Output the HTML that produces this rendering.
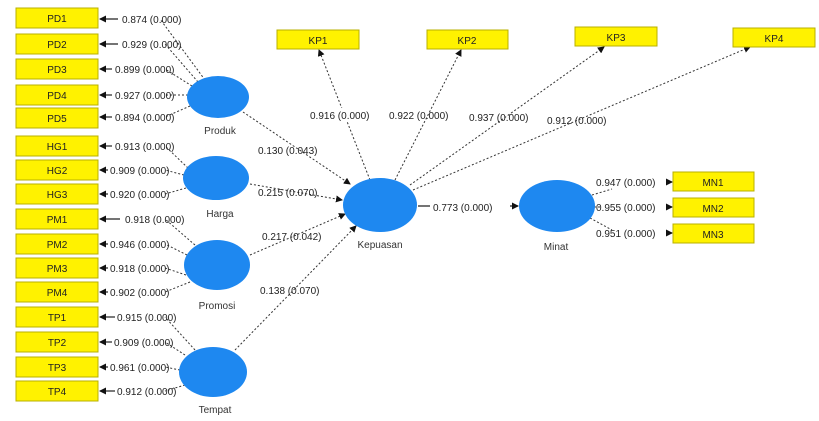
<!DOCTYPE html>
<html><head><meta charset="utf-8"><style>
html,body{margin:0;padding:0;background:#fff;}
svg{display:block;font-family:"Liberation Sans",sans-serif;}
.b{fill:#fff200;stroke:#b8b000;stroke-width:1;}
.bt{font-size:10px;fill:#222;text-anchor:middle;}
.l{font-size:10px;fill:#222;}
.d{stroke:#333;stroke-width:1;stroke-dasharray:2,2;fill:none;}
.s{stroke:#222;stroke-width:1.2;fill:none;}
.e{fill:#1e88f0;}
.n{font-size:10px;fill:#333;text-anchor:middle;}
</style></head><body>
<svg width="819" height="421" viewBox="0 0 819 421">
<defs><marker id="a" markerWidth="7" markerHeight="7" refX="6" refY="3.5" orient="auto" markerUnits="userSpaceOnUse"><path d="M0,0 L7,3.5 L0,7z" fill="#111"/></marker></defs>

<g>
<line class="d" x1="205" y1="80" x2="160" y2="19"/>
<line class="d" x1="198" y1="82" x2="165" y2="44"/>
<line class="d" x1="192" y1="86" x2="165" y2="69"/>
<line class="d" x1="188" y1="95" x2="165" y2="95"/>
<line class="d" x1="190" y1="106" x2="165" y2="117"/>
<line class="d" x1="188" y1="168" x2="165" y2="146"/>
<line class="d" x1="184" y1="175" x2="165" y2="170"/>
<line class="d" x1="186" y1="188" x2="165" y2="194"/>
<line class="d" x1="195" y1="245" x2="165" y2="219"/>
<line class="d" x1="187" y1="255" x2="165" y2="244"/>
<line class="d" x1="186" y1="275" x2="165" y2="268"/>
<line class="d" x1="190" y1="282" x2="165" y2="292"/>
<line class="d" x1="195" y1="350" x2="165" y2="317"/>
<line class="d" x1="185" y1="355" x2="165" y2="342"/>
<line class="d" x1="180" y1="370" x2="165" y2="367"/>
<line class="d" x1="185" y1="385" x2="165" y2="391"/>
</g>
<g>
<line class="s" x1="118" y1="19" x2="100" y2="19" marker-end="url(#a)"/>
<line class="s" x1="118" y1="44" x2="100" y2="44" marker-end="url(#a)"/>
<line class="s" x1="112" y1="69" x2="100" y2="69" marker-end="url(#a)"/>
<line class="s" x1="112" y1="95" x2="100" y2="95" marker-end="url(#a)"/>
<line class="s" x1="112" y1="117" x2="100" y2="117" marker-end="url(#a)"/>
<line class="s" x1="112" y1="146" x2="100" y2="146" marker-end="url(#a)"/>
<line class="s" x1="108" y1="170" x2="100" y2="170" marker-end="url(#a)"/>
<line class="s" x1="108" y1="194" x2="100" y2="194" marker-end="url(#a)"/>
<line class="s" x1="120" y1="219" x2="100" y2="219" marker-end="url(#a)"/>
<line class="s" x1="108" y1="244" x2="100" y2="244" marker-end="url(#a)"/>
<line class="s" x1="108" y1="268" x2="100" y2="268" marker-end="url(#a)"/>
<line class="s" x1="108" y1="292" x2="100" y2="292" marker-end="url(#a)"/>
<line class="s" x1="115" y1="317" x2="100" y2="317" marker-end="url(#a)"/>
<line class="s" x1="112" y1="342" x2="100" y2="342" marker-end="url(#a)"/>
<line class="s" x1="108" y1="367" x2="100" y2="367" marker-end="url(#a)"/>
<line class="s" x1="115" y1="391" x2="100" y2="391" marker-end="url(#a)"/>
</g>
<g class="l">
<text x="122" y="23">0.874 (0.000)</text>
<text x="122" y="48">0.929 (0.000)</text>
<text x="115" y="73">0.899 (0.000)</text>
<text x="115" y="99">0.927 (0.000)</text>
<text x="115" y="121">0.894 (0.000)</text>
<text x="115" y="150">0.913 (0.000)</text>
<text x="110" y="174">0.909 (0.000)</text>
<text x="110" y="198">0.920 (0.000)</text>
<text x="125" y="223">0.918 (0.000)</text>
<text x="110" y="248">0.946 (0.000)</text>
<text x="110" y="272">0.918 (0.000)</text>
<text x="110" y="296">0.902 (0.000)</text>
<text x="117" y="321">0.915 (0.000)</text>
<text x="114" y="346">0.909 (0.000)</text>
<text x="110" y="371">0.961 (0.000)</text>
<text x="117" y="395">0.912 (0.000)</text>
</g>

<g>
<rect class="b" x="16" y="8" width="82" height="20"/><text class="bt" x="57" y="22">PD1</text>
<rect class="b" x="16" y="34" width="82" height="20"/><text class="bt" x="57" y="48">PD2</text>
<rect class="b" x="16" y="59" width="82" height="20"/><text class="bt" x="57" y="73">PD3</text>
<rect class="b" x="16" y="85" width="82" height="20"/><text class="bt" x="57" y="99">PD4</text>
<rect class="b" x="16" y="108" width="82" height="20"/><text class="bt" x="57" y="122">PD5</text>
<rect class="b" x="16" y="136" width="82" height="20"/><text class="bt" x="57" y="150">HG1</text>
<rect class="b" x="16" y="160" width="82" height="20"/><text class="bt" x="57" y="174">HG2</text>
<rect class="b" x="16" y="184" width="82" height="20"/><text class="bt" x="57" y="198">HG3</text>
<rect class="b" x="16" y="209" width="82" height="20"/><text class="bt" x="57" y="223">PM1</text>
<rect class="b" x="16" y="234" width="82" height="20"/><text class="bt" x="57" y="248">PM2</text>
<rect class="b" x="16" y="258" width="82" height="20"/><text class="bt" x="57" y="272">PM3</text>
<rect class="b" x="16" y="282" width="82" height="20"/><text class="bt" x="57" y="296">PM4</text>
<rect class="b" x="16" y="307" width="82" height="20"/><text class="bt" x="57" y="321">TP1</text>
<rect class="b" x="16" y="332" width="82" height="20"/><text class="bt" x="57" y="346">TP2</text>
<rect class="b" x="16" y="357" width="82" height="20"/><text class="bt" x="57" y="371">TP3</text>
<rect class="b" x="16" y="381" width="82" height="20"/><text class="bt" x="57" y="395">TP4</text>
</g>

<line class="d" x1="243" y1="112" x2="350" y2="184" marker-end="url(#a)"/>
<line class="d" x1="250" y1="184" x2="342" y2="200" marker-end="url(#a)"/>
<line class="d" x1="250" y1="255" x2="345" y2="214" marker-end="url(#a)"/>
<line class="d" x1="235" y1="350" x2="356" y2="226" marker-end="url(#a)"/>
<line class="s" x1="418" y1="206" x2="518" y2="206" marker-end="url(#a)"/>
<text class="l" x="258" y="154">0.130 (0.043)</text>
<text class="l" x="258" y="196">0.215 (0.070)</text>
<text class="l" x="262" y="240">0.217 (0.042)</text>
<text class="l" x="260" y="294">0.138 (0.070)</text>
<rect x="430" y="199" width="80" height="14" fill="#fff"/>
<text class="l" x="433" y="211">0.773 (0.000)</text>

<line class="d" x1="370" y1="180" x2="319" y2="50" marker-end="url(#a)"/>
<line class="d" x1="395" y1="180" x2="461" y2="50" marker-end="url(#a)"/>
<line class="d" x1="410" y1="185" x2="604" y2="47" marker-end="url(#a)"/>
<line class="d" x1="413" y1="190" x2="750" y2="47" marker-end="url(#a)"/>
<rect x="305" y="108" width="72" height="13" fill="#fff"/>
<text class="l" x="310" y="119">0.916 (0.000)</text>
<text class="l" x="389" y="119">0.922 (0.000)</text>
<text class="l" x="469" y="121">0.937 (0.000)</text>
<text class="l" x="547" y="124">0.912 (0.000)</text>
<rect class="b" x="277" y="30" width="82" height="19"/><text class="bt" x="318" y="44">KP1</text>
<rect class="b" x="427" y="30" width="81" height="19"/><text class="bt" x="467" y="44">KP2</text>
<rect class="b" x="575" y="27" width="82" height="19"/><text class="bt" x="616" y="41">KP3</text>
<rect class="b" x="733" y="28" width="82" height="19"/><text class="bt" x="774" y="42">KP4</text>

<line class="d" x1="592" y1="195" x2="612" y2="189"/>
<line class="d" x1="594" y1="207" x2="600" y2="207"/>
<line class="d" x1="590" y1="218" x2="612" y2="230"/>
<text class="l" x="596" y="186">0.947 (0.000)</text>
<text class="l" x="596" y="211">0.955 (0.000)</text>
<text class="l" x="596" y="237">0.951 (0.000)</text>
<line class="s" x1="667" y1="182" x2="672" y2="182" marker-end="url(#a)"/>
<line class="s" x1="667" y1="207" x2="672" y2="207" marker-end="url(#a)"/>
<line class="s" x1="667" y1="233" x2="672" y2="233" marker-end="url(#a)"/>
<rect class="b" x="673" y="172" width="81" height="19"/><text class="bt" x="713" y="186">MN1</text>
<rect class="b" x="673" y="198" width="81" height="19"/><text class="bt" x="713" y="212">MN2</text>
<rect class="b" x="673" y="224" width="81" height="19"/><text class="bt" x="713" y="238">MN3</text>

<ellipse class="e" cx="218" cy="97" rx="31" ry="21"/>
<ellipse class="e" cx="216" cy="178" rx="33" ry="22"/>
<ellipse class="e" cx="217" cy="265" rx="33" ry="25"/>
<ellipse class="e" cx="213" cy="372" rx="34" ry="25"/>
<ellipse class="e" cx="380" cy="205" rx="37" ry="27"/>
<ellipse class="e" cx="557" cy="206" rx="38" ry="26"/>
<text class="n" x="220" y="134">Produk</text>
<text class="n" x="220" y="217">Harga</text>
<text class="n" x="217" y="309">Promosi</text>
<text class="n" x="215" y="413">Tempat</text>
<text class="n" x="380" y="248">Kepuasan</text>
<text class="n" x="556" y="250">Minat</text>
</svg>
</body></html>
